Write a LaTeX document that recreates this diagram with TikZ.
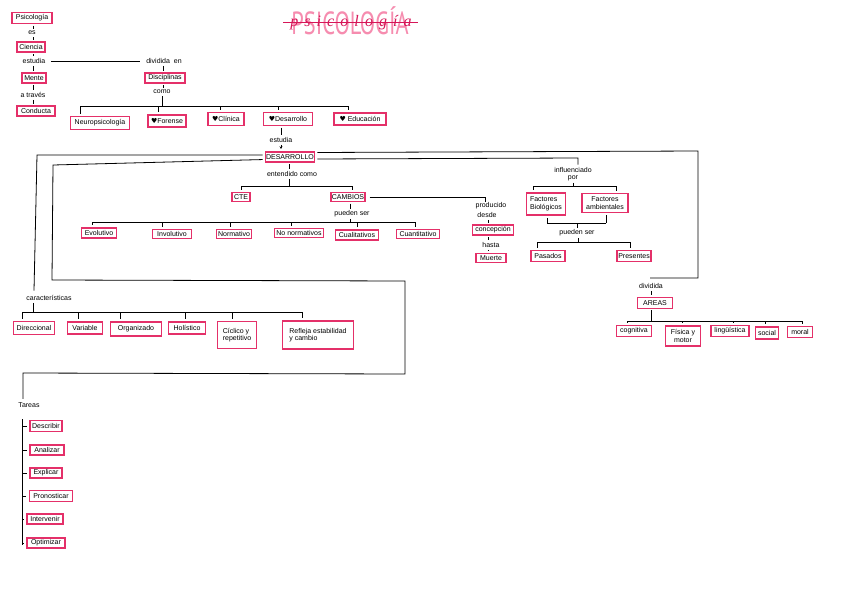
\documentclass[tikz,border=0pt]{standalone}
\usepackage{fontspec}
\usepackage{graphicx}
\setmainfont{Liberation Sans}
\newfontfamily\dejavu{DejaVu Sans}
\newfontfamily\ttlcaps{PT Sans}
\newfontfamily\ttlscript[LetterSpace=38]{Liberation Serif}
\usetikzlibrary{arrows.meta}
\definecolor{boxc}{RGB}{228,48,105}
\definecolor{tlight}{RGB}{246,140,175}
\definecolor{tdark}{RGB}{214,22,88}
\newcommand\myheart{{\dejavu\char"2665}}
\newcommand\tickdn[3]{\coordinate (tmpk) at (#1,#2); \draw[ln, shorten >=2pt] (tmpk) -- (tmpk |- #3.north);}
\newcommand\tickup[3]{\coordinate (tmpk) at (#1,#2); \draw[ln, shorten >=2pt] (tmpk) -- (tmpk |- #3.south);}
\newcommand\tickfrom[3]{\coordinate (tmpk) at (#1,#2); \draw[ln, shorten <=1.5pt] (#3.south -| tmpk) -- (tmpk);}
\begin{document}
\begin{tikzpicture}[x=1pt,y=-1pt,
 bx/.style={draw=boxc, line width=1.3pt, inner sep=0.8pt, font=\fontsize{7}{7.6}\selectfont, align=center},
 tx/.style={inner sep=0.5pt, font=\fontsize{7}{7.6}\selectfont, align=center},
 ln/.style={line width=0.8pt, black},
 tk/.style={ln, shorten <=1.5pt, shorten >=1.5pt},
]
\path[use as bounding box, fill=white] (0,0) rectangle (848,600);

% ---------- title ----------
\node[inner sep=0] (title) at (350,21) {\scalebox{0.7}[1]{\ttlcaps\fontsize{32}{32}\selectfont\color{tlight}PSICOLOGÍA}};
\node[inner sep=0] (titlescr) at (351,23) {\ttlscript\itshape\fontsize{16}{16}\selectfont\color{tdark}psicología};
\draw[tdark, line width=0.8pt] ([xshift=-8pt,yshift=-1pt]title.west) -- ([xshift=9pt,yshift=-1pt]title.east);

% ---------- left column ----------
\coordinate (colx) at (33,0);
\node[bx, minimum width=40, minimum height=11] (psi) at (32,18) {Psicología};
\node[tx] (es) at (32,33) {es};
\node[bx, minimum width=28, minimum height=10] (cie) at (31,47) {Ciencia};
\node[tx] (est1) at (34,61) {estudia};
\node[bx, minimum width=24, minimum height=10] (mente) at (34,78) {Mente};
\node[tx] (atr) at (33,95) {a través};
\node[bx, minimum width=38, minimum height=10] (cond) at (36,111) {Conducta};
\draw[tk] (psi.south -| colx) -- (es.north -| colx);
\draw[tk] (es.south -| colx) -- (cie.north -| colx);
\draw[tk] (cie.south -| colx) -- (est1.north -| colx);
\draw[tk] (est1.south -| colx) -- (mente.north -| colx);
\draw[tk] (mente.south -| colx) -- (atr.north -| colx);
\draw[tk] (atr.south -| colx) -- (cond.north -| colx);

\node[tx] (div1) at (164,61) {dividida\ \ en};
\draw[ln, shorten <=5pt, shorten >=6pt] (est1.east) -- (div1.west);
\node[bx, minimum width=40, minimum height=10] (disc) at (165,78) {Disciplinas};
\node[tx] (como) at (162,92) {como};
\coordinate (dx) at (163,0);
\draw[tk] (div1.south -| dx) -- (disc.north -| dx);
\draw[tk] (disc.south -| dx) -- (como.north -| dx);

% bracket A
\node[bx, minimum width=59, minimum height=13] (neuro) at (100,123) {Neuropsicología};
\node[bx, minimum width=38, minimum height=12] (forense) at (167,121) {\myheart Forense};
\node[bx, minimum width=36, minimum height=13] (clinica) at (226,119) {\myheart Clínica};
\node[bx, minimum width=49, minimum height=13] (desa) at (288,119) {\myheart Desarrollo};
\node[bx, minimum width=52, minimum height=12] (educ) at (360,119) {\myheart\ Educación};
\draw[ln] (80,106) -- (348,106);
\tickfrom{162}{106}{como}
\tickdn{80}{106}{neuro}
\tickdn{158}{106}{forense}
\tickdn{220}{106}{clinica}
\tickdn{278}{106}{desa}
\tickdn{348}{106}{educ}

% Desarrollo chain
\node[tx] (est2) at (281,140) {estudia};
\node[bx, minimum width=44, minimum height=10] (DES) at (290,157) {DESARROLLO};
\coordinate (ex) at (281,0);
\draw[tk] (desa.south -| ex) -- (est2.north -| ex);
\draw[ln, -{Stealth[length=2.5pt,width=3pt]}, shorten <=1.5pt, shorten >=2.5pt] (est2.south) -- (est2.south |- DES.north);
\node[tx] (ent) at (292,174) {entendido como};
\coordinate (enx) at (289,0);
\draw[tk] (DES.south -| enx) -- (ent.north -| enx);

% bracket B
\node[bx, minimum width=18, minimum height=9] (cte) at (241,197) {CTE};
\node[bx, minimum width=30, minimum height=9] (camb) at (348,197) {CAMBIOS};
\draw[ln] (241,186) -- (352,186);
\tickfrom{289}{186}{ent}
\tickdn{241}{186}{cte}
\tickdn{352}{186}{camb}

% pueden ser / bracket C
\node[tx] (pue1) at (352,214) {pueden ser};
\coordinate (px) at (350,0);
\draw[tk] (camb.south -| px) -- (pue1.north -| px);
\node[bx, minimum width=35, minimum height=10] (evol) at (99,233) {Evolutivo};
\node[bx, minimum width=39, minimum height=9] (invol) at (172,234) {Involutivo};
\node[bx, minimum width=35, minimum height=9] (norm) at (234,234) {Normativo};
\node[bx, minimum width=49, minimum height=9] (nonorm) at (299,233) {No normativos};
\node[bx, minimum width=43, minimum height=10] (cual) at (357,235) {Cualitativos};
\node[bx, minimum width=43, minimum height=9] (cuan) at (418,234) {Cuantitativo};
\draw[ln] (92,222) -- (415,222);
\tickfrom{350}{222}{pue1}
\tickdn{92}{222}{evol}
\tickdn{162}{222}{invol}
\tickdn{230}{222}{norm}
\tickdn{291}{222}{nonorm}
\tickdn{357}{222}{cual}
\tickdn{415}{222}{cuan}

% producido desde
\node[tx] (prod) at (491,206) {producido};
\node[tx] (desde) at (487,215) {desde};
\draw[ln, shorten <=4pt] (camb.east) -- (485,197) -- (prod.north -| 485,0);
\node[bx, minimum width=41, minimum height=10] (conc) at (493,230) {concepción};
\node[tx] (hasta) at (491,245) {hasta};
\node[bx, minimum width=30, minimum height=9] (muerte) at (491,258) {Muerte};
\coordinate (hx) at (488,0);
\draw[tk] (desde.south -| hx) -- (conc.north -| hx);
\draw[tk] (conc.south -| hx) -- (hasta.north -| hx);
\draw[tk] (hasta.south -| hx) -- (muerte.north -| hx);

% influenciado por
\node[tx] (infl) at (573,170) {influenciado};
\node[tx] (por) at (573,178) {por};
\node[bx, minimum width=39, minimum height=22, align=left] (fbio) at (546,204) {Factores\\Biológicos};
\node[bx, minimum width=46, minimum height=19] (famb) at (605,203) {Factores\\ambientales};
\draw[ln] (533,186) -- (616,186);
\tickfrom{573}{186}{por}
\tickdn{533}{186}{fbio}
\tickdn{616}{186}{famb}
\draw[ln] (547,223) -- (606,223);
\tickup{547}{223}{fbio}
\tickup{606}{223}{famb}
\node[tx] (pue2) at (577,233) {pueden ser};
\coordinate (p2x) at (577,0);
\draw[ln, shorten >=1.5pt] (577,223) -- (pue2.north -| p2x);
\node[bx, minimum width=34, minimum height=11] (pas) at (548,256) {Pasados};
\node[bx, minimum width=34, minimum height=11] (pres) at (634,256) {Presentes};
\draw[ln] (537,242) -- (630,242);
\tickfrom{578}{242}{pue2}
\tickdn{537}{242}{pas}
\tickdn{630}{242}{pres}

% areas
\node[tx] (div2) at (651,286) {dividida};
\node[bx, minimum width=35, minimum height=11] (areas) at (655,303) {AREAS};
\coordinate (ax) at (651,0);
\draw[tk] (div2.south -| ax) -- (areas.north -| ax);
\node[bx, minimum width=35, minimum height=11] (cog) at (634,331) {cognitiva};
\node[bx, minimum width=35, minimum height=20] (fis) at (683,336) {Física y\\motor};
\node[bx, minimum width=38, minimum height=11] (ling) at (730,331) {lingüística};
\node[bx, minimum width=23, minimum height=12] (soc) at (767,333) {social};
\node[bx, minimum width=25, minimum height=11] (mor) at (800,332) {moral};
\draw[ln] (627,321) -- (802,321);
\coordinate (tmpk) at (651,321);
\draw[ln, shorten <=1pt] (areas.south -| tmpk) -- (tmpk);
\tickdn{627}{321}{cog}
\tickdn{682}{321}{fis}
\tickdn{733}{321}{ling}
\tickdn{765}{321}{soc}
\tickdn{802}{321}{mor}

% ---------- DESARROLLO main connectors ----------
\node[tx] (carac) at (49,298) {características};
\node[tx] (tareas) at (29,405) {Tareas};
\coordinate (cl1) at (34,0);
\coordinate (cl2) at (23,0);
\draw[ln, shorten <=2pt] ([yshift=2pt]DES.west) -- (37,155) -- ([yshift=4pt]carac.north -| cl1);
\draw[ln, shorten <=2pt] ([yshift=-2.5pt]DES.west) -- (53,165) -- (52,280) -- (405,281) -- (405,374) -- (23,373) -- ([yshift=3pt]tareas.north -| cl2);
\draw[ln, shorten <=2pt] ([yshift=4.5pt]DES.east) -- (698,151) -- (698,278) -- (650,278);
\draw[ln, shorten <=2pt] ([yshift=-2pt]DES.east) -- (578,158) -- ([yshift=2pt]infl.north -| 578,0);

% características
\node[bx, minimum width=41, minimum height=13] (dir) at (34,328) {Direccional};
\node[bx, minimum width=35, minimum height=12] (var) at (85,328) {Variable};
\node[bx, minimum width=51, minimum height=14] (org) at (136,329) {Organizado};
\node[bx, minimum width=37, minimum height=12] (hol) at (187,328) {Holístico};
\node[bx, minimum width=39, minimum height=27, align=left] (cic) at (237,335) {Cíclico y\\repetitivo};
\node[bx, minimum width=71, minimum height=28, align=left] (refl) at (318,335) {Refleja estabilidad\\y cambio};
\draw[ln] (22,312) -- (302,312);
\tickfrom{33}{312}{carac}
\tickdn{22}{312}{dir}
\tickdn{78}{312}{var}
\tickdn{120}{312}{org}
\tickdn{185}{312}{hol}
\tickdn{232}{312}{cic}
\tickdn{302}{312}{refl}

% tareas
\node[bx, minimum width=32, minimum height=11] (desc) at (46,426) {Describir};
\node[bx, minimum width=34, minimum height=10] (anal) at (47,450) {Analizar};
\node[bx, minimum width=32, minimum height=10] (expl) at (46,473) {Explicar};
\node[bx, minimum width=43, minimum height=11] (pron) at (51,496) {Pronosticar};
\node[bx, minimum width=36, minimum height=10] (interv) at (45,519) {Intervenir};
\node[bx, minimum width=38, minimum height=10] (optim) at (46,543) {Optimizar};
\coordinate (tv) at (22,0);
\draw[ln] (22,419) -- (22,545);
\foreach \n in {desc,anal,expl,pron,interv,optim}
  \draw[ln, shorten >=2.5pt] (\n.west -| tv) -- (\n.west);
\end{tikzpicture}
\end{document}
